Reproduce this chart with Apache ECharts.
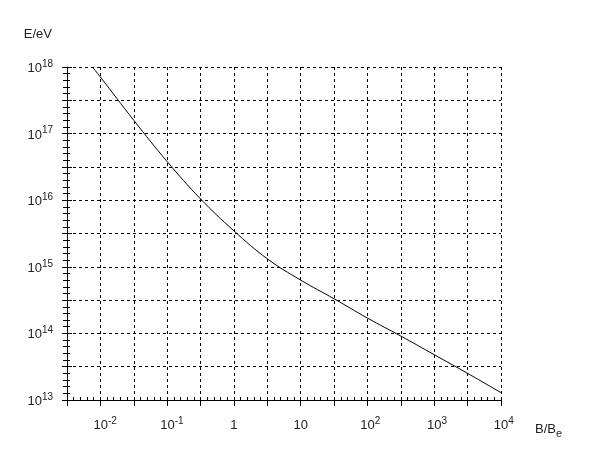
<!DOCTYPE html>
<html>
<head>
<meta charset="utf-8">
<script src="https://cdn.jsdelivr.net/npm/echarts@6/dist/echarts.min.js"></script>
<style>
  html, body { margin: 0; padding: 0; background: #fff; }
  #chart { width: 606px; height: 469px; }
</style>
</head>
<body>
<div id="chart"></div>
<script>
// curve, as log10 values
const logB = [-2.12, -2.0, -1.5, -1.0, -0.5, 0, 0.5, 1, 1.5, 2, 2.5, 3, 3.5, 4];
const logE = [18.0, 17.85, 17.2, 16.58, 16.02, 15.54, 15.12, 14.8, 14.52, 14.23, 13.96, 13.68, 13.4, 13.11];

const xRange = [-2.5, 4];
const yRange = [13, 18];
const step = 0.5;

const font = '"Liberation Sans", Arial, sans-serif';
const rich = {
  b: { fontSize: 13, fontFamily: font, color: '#222', lineHeight: 16, verticalAlign: 'bottom' },
  s: { fontSize: 10, fontFamily: font, color: '#222', lineHeight: 16, verticalAlign: 'top' }
}

function isInt (v) { return Math.abs(v - Math.round(v)) < 1e-6 }

function supWidth (s) {
  var w = 0
  for (var i = 0; i < s.length; i++) w += s[i] === '-' ? 4 : 5.6
  return w
}

function padName (n) { return 'p' + (n < 0 ? 'm' : '') + Math.abs(n) }

// x labels: the "10" sits centred on the tick, the exponent hangs off to the right
function xLabel (v) {
  if (!isInt(v)) return ''
  var n = Math.round(v)
  if (n === 0) return '{b|1}'
  if (n === 1) return '{b|10}'
  return '{' + padName(n) + '| }{b|10}{s|' + n + '}'
}

function yLabel (v) {
  if (!isInt(v)) return ''
  return '{b|10}{s|' + Math.round(v) + '}'
}

// pad styles, one per exponent
for (var k = Math.ceil(xRange[0]); k <= xRange[1]; k++) {
  rich[padName(k)] = { width: supWidth(String(k)), fontSize: 10, lineHeight: 16 }
}

const points = logB.map((b, i) => [b, logE[i]])

const gridLine = { show: true, lineStyle: { color: '#000', width: 1, type: [3, 3] } }

const option = {
  animation: false,
  backgroundColor: '#fff',
  grid: { left: 67, top: 67, right: 105, bottom: 69, containLabel: false, outerBoundsMode: 'none' },
  xAxis: [{
    type: 'value',
    position: 'bottom',
    min: xRange[0], max: xRange[1], interval: step,
    axisLine: { show: true, onZero: false, lineStyle: { color: '#000', width: 1 } },
    axisTick: { show: true, length: 6, lineStyle: { color: '#000' } },
    minorTick: { show: false },
    splitLine: gridLine,
    axisLabel: { formatter: xLabel, rich: rich, margin: 16, showMinLabel: true, showMaxLabel: true },
    name: '{b|B/B}{e|e}',
    nameLocation: 'end',
    nameGap: 34,
    nameTextStyle: {
      align: 'left', verticalAlign: 'top', padding: [23, 0, 0, 0],
      rich: {
        b: { fontSize: 13, fontFamily: font, color: '#222', lineHeight: 16, verticalAlign: 'top' },
        e: { fontSize: 11, fontFamily: font, color: '#222', lineHeight: 16, verticalAlign: 'bottom' }
      }
    }
  }, {
    type: 'value',
    position: 'bottom',
    min: xRange[0], max: xRange[1], interval: step,
    axisLine: { show: false, onZero: false },
    axisTick: { show: true, inside: true, length: 3, lineStyle: { color: '#000' } },
    minorTick: { show: true, splitNumber: 5, length: 3, lineStyle: { color: '#000' } },
    splitLine: { show: false },
    axisLabel: { show: false }
  }],
  yAxis: [{
    type: 'value',
    position: 'left',
    min: yRange[0], max: yRange[1], interval: step,
    axisLine: { show: true, onZero: false, lineStyle: { color: '#000', width: 1 } },
    axisTick: { show: true, length: 5, lineStyle: { color: '#000' } },
    minorTick: { show: true, splitNumber: 5, length: 4, lineStyle: { color: '#000' } },
    splitLine: gridLine,
    axisLabel: { formatter: yLabel, rich: rich, margin: 14, showMinLabel: true, showMaxLabel: true },
    name: 'E/eV',
    nameLocation: 'end',
    nameGap: 33,
    nameTextStyle: {
      fontSize: 13, fontFamily: font, color: '#222',
      align: 'right', verticalAlign: 'middle', padding: [0, 15, 0, 0]
    }
  }, {
    type: 'value',
    position: 'left',
    min: yRange[0], max: yRange[1], interval: step,
    axisLine: { show: false, onZero: false },
    axisTick: { show: true, inside: true, length: 5, lineStyle: { color: '#000' } },
    minorTick: { show: true, splitNumber: 5, length: 3, lineStyle: { color: '#000' } },
    splitLine: { show: false },
    axisLabel: { show: false }
  }],
  series: [{
    type: 'line',
    xAxisIndex: 0,
    yAxisIndex: 0,
    data: points,
    smooth: 0.4,
    symbol: 'none',
    lineStyle: { color: '#000', width: 1 }
  }]
}

const chart = echarts.init(document.getElementById('chart'))
chart.setOption(option)
</script>
</body>
</html>
